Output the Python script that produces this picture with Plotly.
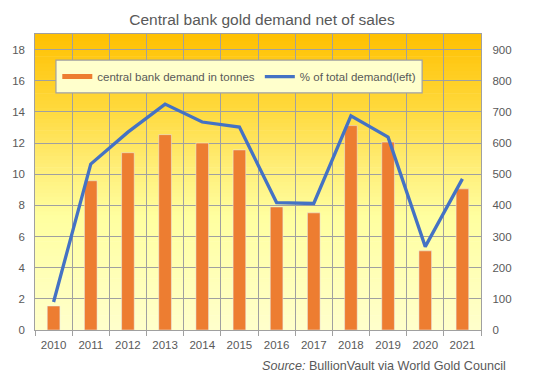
import plotly.graph_objects as go

years = ["2010", "2011", "2012", "2013", "2014", "2015", "2016", "2017", "2018", "2019", "2020", "2021"]
tonnes = [77, 479, 569, 627, 600, 578, 395, 376, 656, 603, 254, 453]
pct_total = [1.8, 10.65, 12.7, 14.5, 13.35, 13.03, 8.18, 8.12, 13.75, 12.38, 5.35, 9.7]
left_ticks = list(range(0, 19, 2))
right_ticks = list(range(0, 901, 100))

GRID = "#A0A0A0"
TXT = "#595959"
ORANGE = "#ED7D31"
BLUE = "#4472C4"

fig = go.Figure()

fig.add_trace(go.Bar(x=years, y=tonnes, marker_color=ORANGE, width=0.34,
                     yaxis="y", showlegend=False, name="central bank demand in tonnes"))
fig.add_trace(go.Scatter(x=years, y=pct_total, mode="lines", line=dict(color=BLUE, width=3.3),
                         yaxis="y2", showlegend=False, name="% of total demand(left)"))
# legend entries (Excel style line swatches)
fig.add_trace(go.Scatter(x=[None], y=[None], mode="lines", line=dict(color=ORANGE, width=5),
                         name="central bank demand in tonnes", yaxis="y"))
fig.add_trace(go.Scatter(x=[None], y=[None], mode="lines", line=dict(color=BLUE, width=3.3),
                         name="% of total demand(left)", yaxis="y2"))

# gradient background (style only)
stops = [(0.0, (255, 192, 0)), (0.25, (255, 217, 60)), (0.45, (255, 238, 120)),
         (0.62, (255, 255, 160)), (1.0, (255, 255, 204))]

def col(t):
    for (a, ca), (b, cb) in zip(stops[:-1], stops[1:]):
        if a <= t <= b:
            f = (t - a) / (b - a)
            return "rgb(%d,%d,%d)" % tuple(round(ca[i] + (cb[i] - ca[i]) * f) for i in range(3))
    return "rgb(255,255,204)"

shapes = []
N = 80
for i in range(N):
    t = (i + 0.5) / N
    shapes.append(dict(type="rect", xref="paper", yref="paper", x0=0, x1=1,
                       y0=1 - (i + 1) / N - 0.002, y1=1 - i / N,
                       fillcolor=col(t), line=dict(width=0), layer="below"))
# legend box
shapes.append(dict(type="rect", xref="paper", yref="paper", x0=0.047, x1=0.868, y0=0.801, y1=0.912,
                   fillcolor="#FFFFCC", line=dict(color=GRID, width=1.2), layer="above"))

fig.update_layout(
    width=545, height=374,
    margin=dict(l=35, r=64, t=34, b=44),
    paper_bgcolor="white", plot_bgcolor="rgba(0,0,0,0)",
    font=dict(family="Liberation Sans, Arial, sans-serif", color=TXT, size=12),
    title=dict(text="Central bank gold demand net of sales", x=0.509, xref="paper", xanchor="center",
               y=1 - 20 / 374, yanchor="middle", font=dict(size=15.5, color=TXT)),
    barmode="overlay",
    shapes=shapes,
    xaxis=dict(type="category", tickson="boundaries", ticks="outside", ticklen=5, tickcolor=GRID,
               showgrid=True, gridcolor=GRID, gridwidth=1, showline=True, linecolor=GRID, linewidth=1.2,
               mirror=True, tickfont=dict(size=11.5, color=TXT), range=[-0.5, 11.5],
               ticklabelstandoff=4),
    yaxis=dict(side="right", range=[0, 950], tickvals=right_ticks, showgrid=True, gridcolor=GRID,
               gridwidth=1, showline=True, linecolor=GRID, linewidth=1.2, mirror=True, ticks="",
               tickfont=dict(size=11.5, color=TXT), ticklabelstandoff=8, zeroline=False),
    yaxis2=dict(side="left", overlaying="y", range=[0, 19], tickvals=left_ticks, showgrid=False,
                showline=False, ticks="", tickfont=dict(size=11.5, color=TXT), ticklabelstandoff=9,
                zeroline=False),
    legend=dict(orientation="h", x=0.05, xanchor="left", y=0.856, yanchor="middle",
                bgcolor="rgba(0,0,0,0)", borderwidth=0, font=dict(size=11.5, color=TXT),
                itemwidth=30),
    annotations=[dict(text="<i>Source:</i> BullionVault via World Gold Council", xref="paper", yref="paper",
                      x=(508 - 35) / 446, y=-(366 - 330) / 296, xanchor="right", yanchor="middle",
                      showarrow=False, font=dict(size=12.6, color=TXT))],
)

fig.write_html("out.html", config={"displayModeBar": False},
               post_script="document.body.style.margin='0';document.body.style.overflow='hidden';")
